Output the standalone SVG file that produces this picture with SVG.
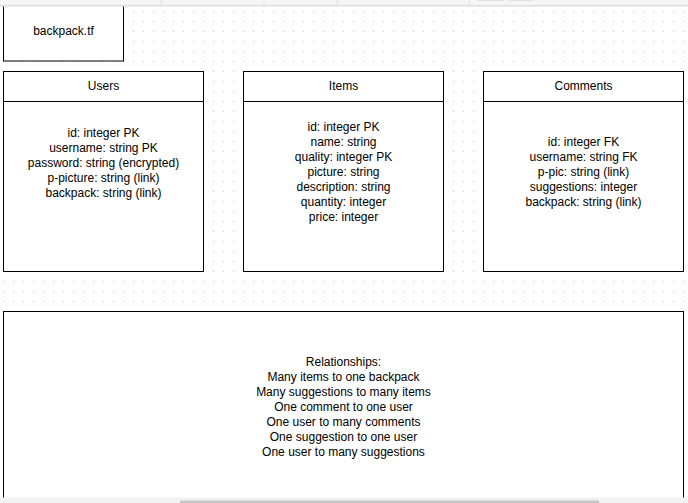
<svg xmlns="http://www.w3.org/2000/svg" width="688" height="503" viewBox="0 0 688 503">
<defs>
<pattern id="grid" patternUnits="userSpaceOnUse" width="10" height="10">
<rect x="3" y="1" width="1" height="1" fill="#c8c8c8"/>
</pattern>
<style>
.box{fill:#fff;stroke:#000;stroke-width:1}
.t{font-family:"Liberation Sans",Arial,Helvetica,sans-serif;font-size:12px;fill:#000;text-anchor:middle}
</style>
</defs>
<rect width="688" height="503" fill="#fff"/>
<rect x="0" y="0" width="688" height="503" fill="url(#grid)"/>
<g id="backpack">
<rect class="box" x="3.5" y="-10.5" width="120" height="71.5"/>
<text class="t" x="63.5" y="35">backpack.tf</text>
</g>
<g id="users">
<rect class="box" x="3.5" y="71.5" width="200" height="200"/>
<line x1="3.5" y1="101.5" x2="203.5" y2="101.5" stroke="#000"/>
<text class="t" x="103.5" y="89.5">Users</text>
<text class="t" x="103.5" y="136.5">id: integer PK</text>
<text class="t" x="103.5" y="151.5">username: string PK</text>
<text class="t" x="103.5" y="166.5">password: string (encrypted)</text>
<text class="t" x="103.5" y="181.5">p-picture: string (link)</text>
<text class="t" x="103.5" y="196.5">backpack: string (link)</text>
</g>
<g id="items">
<rect class="box" x="243.5" y="71.5" width="200" height="200"/>
<line x1="243.5" y1="101.5" x2="443.5" y2="101.5" stroke="#000"/>
<text class="t" x="343.5" y="89.5">Items</text>
<text class="t" x="343.5" y="130.5">id: integer PK</text>
<text class="t" x="343.5" y="145.5">name: string</text>
<text class="t" x="343.5" y="160.5">quality: integer PK</text>
<text class="t" x="343.5" y="175.5">picture: string</text>
<text class="t" x="343.5" y="190.5">description: string</text>
<text class="t" x="343.5" y="205.5">quantity: integer</text>
<text class="t" x="343.5" y="220.5">price: integer</text>
</g>
<g id="comments">
<rect class="box" x="483.5" y="71.5" width="200" height="200"/>
<line x1="483.5" y1="101.5" x2="683.5" y2="101.5" stroke="#000"/>
<text class="t" x="583.5" y="89.5">Comments</text>
<text class="t" x="583.5" y="145.5">id: integer FK</text>
<text class="t" x="583.5" y="160.5">username: string FK</text>
<text class="t" x="583.5" y="175.5">p-pic: string (link)</text>
<text class="t" x="583.5" y="190.5">suggestions: integer</text>
<text class="t" x="583.5" y="205.5">backpack: string (link)</text>
</g>
<g id="relationships">
<rect class="box" x="3.5" y="311.5" width="680" height="220"/>
<text class="t" x="343.5" y="365.5">Relationships:</text>
<text class="t" x="343.5" y="380.5">Many items to one backpack</text>
<text class="t" x="343.5" y="395.5">Many suggestions to many items</text>
<text class="t" x="343.5" y="410.5">One comment to one user</text>
<text class="t" x="343.5" y="425.5">One user to many comments</text>
<text class="t" x="343.5" y="440.5">One suggestion to one user</text>
<text class="t" x="343.5" y="455.5">One user to many suggestions</text>
</g>
<g id="connectors"></g>
<g id="chrome">
<rect x="0" y="0" width="688" height="5" fill="#f5f5f5"/>
<rect x="0" y="5" width="688" height="1.5" fill="#dedede"/>
<rect x="160.5" y="0" width="1" height="5" fill="#e0e0e0"/>
<rect x="263.5" y="0" width="1" height="5" fill="#e0e0e0"/>
<rect x="336.5" y="0" width="1" height="5" fill="#e0e0e0"/>
<rect x="469" y="0" width="1" height="5" fill="#e0e0e0"/>
<rect x="478" y="0" width="26" height="1" fill="#e2e2e2"/>
<rect x="508" y="0" width="26" height="1" fill="#e2e2e2"/>
<rect x="0" y="497.5" width="688" height="5.5" fill="#f2f2f2"/>
<rect x="180" y="500.5" width="419" height="2.5" fill="#c6c6c6"/>
</g>
</svg>
